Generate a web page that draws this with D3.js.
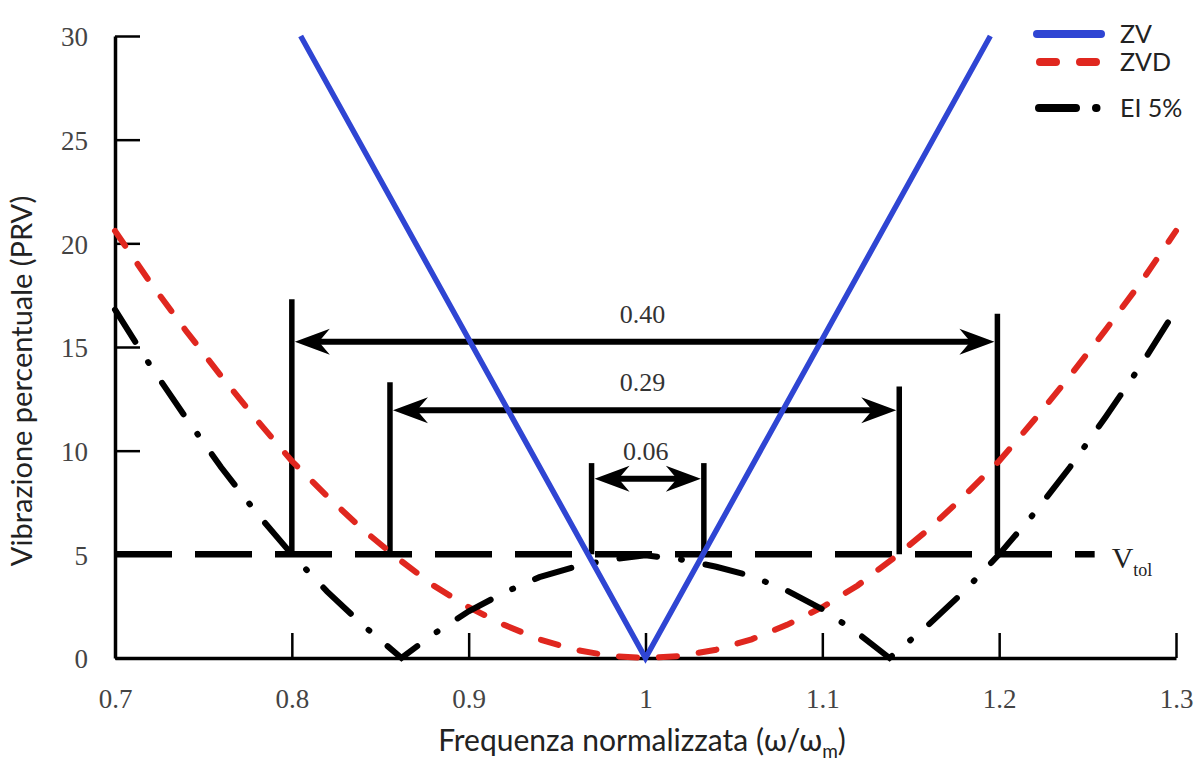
<!DOCTYPE html>
<html>
<head>
<meta charset="utf-8">
<script src="https://cdn.jsdelivr.net/npm/d3@7"></script>
<style>
  body { margin: 0; background: #fff; }
  .tick text { font-family: "Liberation Serif", "DejaVu Serif", serif; fill: #444; }
</style>
</head>
<body>
<div id="chart"></div>
<script>
// tick values
const xTicks = [0.7, 0.8, 0.9, 1, 1.1, 1.2, 1.3];
const yTicks = [0, 5, 10, 15, 20, 25, 30];

// ZV (solid blue)
const zvX = [0.805, 1.0, 1.195];
const zvY = [30, 0, 30];

// ZVD (red dashed)
const zvdX = [0.70, 0.72, 0.74, 0.76, 0.78, 0.80, 0.82, 0.84, 0.86, 0.88, 0.90, 0.92, 0.94, 0.96, 0.98, 1.00,
              1.02, 1.04, 1.06, 1.08, 1.10, 1.12, 1.14, 1.16, 1.18, 1.20, 1.22, 1.24, 1.26, 1.28, 1.30];
const zvdY = [20.6, 18.1, 15.8, 13.6, 11.5, 9.5, 7.8, 6.2, 4.8, 3.5, 2.45, 1.6, 0.9, 0.4, 0.1, 0,
              0.1, 0.4, 0.9, 1.6, 2.45, 3.5, 4.8, 6.2, 7.8, 9.5, 11.5, 13.6, 15.8, 18.1, 20.6];

// EI 5% (black dash-dot)
const eiX = [0.70, 0.72, 0.74, 0.76, 0.78, 0.80, 0.82, 0.84, 0.862, 0.88, 0.90, 0.92, 0.94, 0.96, 0.98, 1.00,
             1.02, 1.04, 1.06, 1.08, 1.10, 1.12, 1.138, 1.16, 1.18, 1.20, 1.22, 1.24, 1.26, 1.28, 1.30];
const eiY = [16.8, 14.1, 11.6, 9.2, 7.0, 5.0, 3.2, 1.6, 0, 1.15, 2.25, 3.15, 3.9, 4.4, 4.75, 4.95,
             4.75, 4.4, 3.95, 3.25, 2.35, 1.2, 0, 1.6, 3.2, 5.0, 7.0, 9.2, 11.6, 14.1, 16.8];

// tolerance line
const vtol = 5;
const vtolEnd = 1.254;

// width brackets
const bracketLabels = ["0.40", "0.29", "0.06"];
const bracketLeft = [0.800, 0.8555, 0.9695];
const bracketRight = [1.199, 1.1435, 1.033];
const bracketLeftTop = [17.3, 13.3, 9.4];
const bracketRightTop = [16.6, 13.1, 9.4];
const bracketArrowY = [15.25, 11.95, 8.65];

const legendLabels = ["ZV", "ZVD", "EI 5%"];

const width = 1200, height = 761;
const margin = { top: 36, right: 24, bottom: 103, left: 115 };

const svg = d3.select("#chart").append("svg")
    .attr("width", width)
    .attr("height", height);

const x = d3.scaleLinear().domain([0.7, 1.3]).range([margin.left, width - margin.right]);
const y = d3.scaleLinear().domain([0, 30]).range([height - margin.bottom, margin.top]);

// axes
const yAxis = svg.append("g")
    .attr("transform", `translate(${margin.left},0)`)
    .call(d3.axisLeft(y).tickValues(yTicks).tickFormat(d3.format("d"))
        .tickSizeInner(-25).tickSizeOuter(0).tickPadding(27));
yAxis.select(".domain").attr("stroke-width", 3.5);
yAxis.selectAll(".tick line").attr("stroke-width", 2.5);
yAxis.selectAll(".tick text").style("font-size", "27px").attr("dy", "0.36em");

const xAxis = svg.append("g")
    .attr("transform", `translate(0,${height - margin.bottom})`)
    .call(d3.axisBottom(x).tickValues(xTicks).tickFormat(d => d === 1 ? "1" : d3.format(".1f")(d))
        .tickSizeInner(-25).tickSizeOuter(0).tickPadding(31));
xAxis.select(".domain").attr("stroke-width", 3.5);
xAxis.selectAll(".tick line").attr("stroke-width", 2.5);
xAxis.selectAll(".tick text").style("font-size", "27px");

// axis titles
svg.append("text")
    .attr("transform", `translate(32,${381}) rotate(-90)`)
    .attr("text-anchor", "middle")
    .style("font-family", "Lato, 'Open Sans', sans-serif")
    .style("font-size", "29px")
    .attr("fill", "#222")
    .text("Vibrazione percentuale (PRV)");

const xt = svg.append("text")
    .attr("x", 642).attr("y", 751)
    .attr("text-anchor", "middle")
    .style("font-family", "Lato, 'Open Sans', sans-serif")
    .style("font-size", "30px")
    .attr("fill", "#222");
xt.append("tspan").text("Frequenza normalizzata (ω/ω");
xt.append("tspan").attr("dy", 7).style("font-size", "19px").text("m");
xt.append("tspan").attr("dy", -7).text(")");

const line = d3.line().x(d => x(d[0])).y(d => y(d[1]));

// tolerance line
svg.append("path")
    .attr("d", line([[0.7, vtol], [vtolEnd, vtol]]))
    .attr("fill", "none").attr("stroke", "#000")
    .attr("stroke-width", 6.5).attr("stroke-dasharray", "57,23");

// brackets
const arrowHead = (tx, ty, dir) => {
    // dir = 1 points right, -1 points left
    const L = 35, w = 13, n = 24;
    return `M${tx},${ty} L${tx - dir * L},${ty - w} L${tx - dir * n},${ty} L${tx - dir * L},${ty + w} Z`;
};
bracketLabels.forEach((lab, i) => {
    const xl = x(bracketLeft[i]), xr = x(bracketRight[i]), ya = y(bracketArrowY[i]);
    svg.append("line").attr("x1", xl).attr("x2", xl).attr("y1", y(vtol)).attr("y2", y(bracketLeftTop[i]))
        .attr("stroke", "#000").attr("stroke-width", 5.5);
    svg.append("line").attr("x1", xr).attr("x2", xr).attr("y1", y(vtol)).attr("y2", y(bracketRightTop[i]))
        .attr("stroke", "#000").attr("stroke-width", 5.5);
    svg.append("line").attr("x1", xl + 20).attr("x2", xr - 20).attr("y1", ya).attr("y2", ya)
        .attr("stroke", "#000").attr("stroke-width", 6);
    svg.append("path").attr("d", arrowHead(xl + 3, ya, -1)).attr("fill", "#000");
    svg.append("path").attr("d", arrowHead(xr - 3, ya, 1)).attr("fill", "#000");
    svg.append("text")
        .attr("x", (xl + xr) / 2 - 2).attr("y", ya - 19)
        .attr("text-anchor", "middle")
        .style("font-family", "'Liberation Serif', serif")
        .style("font-size", "26px")
        .attr("fill", "#333")
        .text(lab);
});

// curves
svg.append("path")
    .attr("d", line(zvdX.map((v, i) => [v, zvdY[i]])))
    .attr("fill", "none").attr("stroke", "#e0271f")
    .attr("stroke-width", 6).attr("stroke-linecap", "round")
    .attr("stroke-dasharray", "18,22");

svg.append("path")
    .attr("d", line(eiX.map((v, i) => [v, eiY[i]])))
    .attr("fill", "none").attr("stroke", "#000")
    .attr("stroke-width", 6).attr("stroke-linecap", "round")
    .attr("stroke-dasharray", "38,24,1,24");

svg.append("path")
    .attr("d", line(zvX.map((v, i) => [v, zvY[i]])))
    .attr("fill", "none").attr("stroke", "#2f45d3")
    .attr("stroke-width", 5.5);

// V_tol label
const vt = svg.append("text")
    .attr("x", x(vtolEnd) + 17).attr("y", y(vtol) + 14)
    .style("font-family", "'Liberation Serif', serif")
    .attr("fill", "#222");
vt.append("tspan").style("font-size", "30px").text("V");
vt.append("tspan").attr("dy", 8).style("font-size", "18px").text("tol");

// legend
const legend = svg.append("g");
const legendY = [34, 62, 108];
legend.append("line").attr("x1", 1037).attr("x2", 1101).attr("y1", legendY[0]).attr("y2", legendY[0])
    .attr("stroke", "#2f45d3").attr("stroke-width", 8).attr("stroke-linecap", "round");
legend.append("line").attr("x1", 1040).attr("x2", 1099).attr("y1", legendY[1]).attr("y2", legendY[1])
    .attr("stroke", "#e0271f").attr("stroke-width", 8).attr("stroke-linecap", "round")
    .attr("stroke-dasharray", "16,24");
legend.append("line").attr("x1", 1039).attr("x2", 1100).attr("y1", legendY[2]).attr("y2", legendY[2])
    .attr("stroke", "#000").attr("stroke-width", 8).attr("stroke-linecap", "round")
    .attr("stroke-dasharray", "37,20,0.5,20");
legend.selectAll("text.lg").data(legendLabels).join("text")
    .attr("class", "lg")
    .attr("x", 1120)
    .attr("y", (d, i) => legendY[i] + 9)
    .style("font-family", "Lato, 'Open Sans', sans-serif")
    .style("font-size", "25px")
    .attr("fill", "#222")
    .text(d => d);
</script>
</body>
</html>
